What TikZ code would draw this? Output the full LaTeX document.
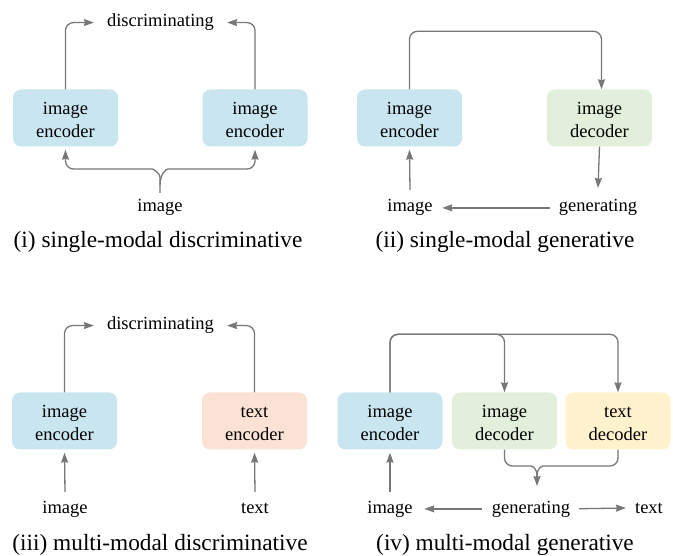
\documentclass[tikz,border=0pt]{standalone}
\usepackage{fontspec}
\setmainfont{Liberation Serif}
\usetikzlibrary{
arrows.meta,
positioning,
}
\definecolor{encblue}{HTML}{C9E6F0}
\definecolor{decgreen}{HTML}{E2EFDA}
\definecolor{encorange}{HTML}{FBE2D5}
\definecolor{decyellow}{HTML}{FFF2CC}
\definecolor{linegray}{HTML}{777777}
\tikzset{
x=1pt, y=-1pt,
every node/.style={align=center, inner sep=0pt, font=\fontsize{18.5}{22.5}\selectfont},
module/.style={rounded corners=8pt, minimum width=105pt, minimum height=57pt,
  text height=39pt, text depth=0pt},
caption/.style={font=\fontsize{23.3}{28}\selectfont},
flow/.style={draw=linegray, line width=1.3pt, rounded corners=8pt},
>={Stealth[length=10pt, width=7pt, inset=1pt]},
}
\begin{document}
\begin{tikzpicture}
\useasboundingbox (0,0) rectangle (673,556);

% (i) single-modal discriminative
\node [module, fill=encblue] (enc1a) at (65.5,118) {image\\encoder};
\node [module, fill=encblue] (enc1b) at (255,118) {image\\encoder};
\node [anchor=base] (disc1) at (160.5,27) {discriminating};
\node [anchor=base] (img1) at (160,212) {image};
\node [caption, anchor=base] (cap1) at (158,248) {(i) single-modal discriminative};
\coordinate (fork1) at (160,185);
\draw [flow,->] (enc1a.north) |- ([xshift=-13pt]disc1.west);
\draw [flow,->] (enc1b.north) |- ([xshift=13pt]disc1.east);
\draw [flow,->] ([yshift=19pt]img1.base) -- (fork1) .. controls +(0,-11) and +(10,0) .. ++(-16,-16) -| ([yshift=-3pt]enc1a.south);
\draw [flow,->] (fork1) .. controls +(0,-11) and +(-10,0) .. ++(16,-16) -| ([yshift=-3pt]enc1b.south);

% (ii) single-modal generative
\node [module, fill=encblue] (enc2) at (409.5,118) {image\\encoder};
\node [module, fill=decgreen] (dec2) at (599.5,118) {image\\decoder};
\node [anchor=base] (img2) at (410,212) {image};
\node [anchor=base] (gen2) at (598,212) {generating};
\node [caption, anchor=base] (cap2) at (505,248) {(ii) single-modal generative};
\draw [flow,->] (enc2.north) -- ++(0,-58) -| ([xshift=2pt]dec2.north);
\draw [flow,->] (dec2.south) -- ([yshift=24pt]gen2.base);
\draw [flow,->, shorten <=9pt, shorten >=9.5pt] (gen2.west) -- (img2.east);
\draw [flow,->] ([yshift=22pt]img2.base) -- ([yshift=-3pt]enc2.south);

% (iii) multi-modal discriminative
\node [module, fill=encblue] (enc3) at (64.5,421) {image\\encoder};
\node [module, fill=encorange] (tenc3) at (254.5,421) {text\\encoder};
\node [anchor=base] (disc3) at (160.5,330) {discriminating};
\node [anchor=base] (img3) at (65,513) {image};
\node [anchor=base] (txt3) at (255,513) {text};
\node [caption, anchor=base] (cap3) at (160,550) {(iii) multi-modal discriminative};
\draw [flow,->] (enc3.north) |- ([xshift=-13pt]disc3.west);
\draw [flow,->] (tenc3.north) |- ([xshift=13pt]disc3.east);
\draw [flow,->] ([yshift=21pt]img3.base) -- ([yshift=-3pt]enc3.south);
\draw [flow,->] ([yshift=21pt]txt3.base) -- ([yshift=-3pt]tenc3.south);

% (iv) multi-modal generative
\node [module, fill=encblue] (enc4) at (390,421) {image\\encoder};
\node [module, fill=decgreen] (dec4) at (504.5,421) {image\\decoder};
\node [module, fill=decyellow] (tdec4) at (618,421) {text\\decoder};
\node [anchor=base] (img4) at (390,513) {image};
\node [anchor=base] (gen4) at (531,513) {generating};
\node [anchor=base] (txt4) at (649,513) {text};
\node [caption, anchor=base] (cap4) at (505,550) {(iv) multi-modal generative};
\coordinate (fork4) at (537,476);
\coordinate (tip4) at (537,486);
\draw [flow,->] (enc4.north) -- ++(0,-58) -| (dec4.north);
\draw [flow,->] (enc4.north) -- ++(0,-58) -| (tdec4.north);
\draw [flow] (dec4.south) |- ([xshift=-14pt,yshift=10pt]fork4) .. controls +(9,0) and +(0,-8) .. (fork4);
\draw [flow] (tdec4.south) |- ([xshift=14pt,yshift=10pt]fork4) .. controls +(-9,0) and +(0,-8) .. (fork4);
\draw [flow,->] (fork4) -- (tip4);
\draw [flow,->, shorten <=10pt, shorten >=11.5pt] (gen4.west) -- (img4.east);
\draw [flow,->, shorten <=9pt, shorten >=9pt] (gen4.east) -- (txt4.west);
\draw [flow,->] ([yshift=21pt]img4.base) -- ([yshift=-3pt]enc4.south);
\end{tikzpicture}
\end{document}
